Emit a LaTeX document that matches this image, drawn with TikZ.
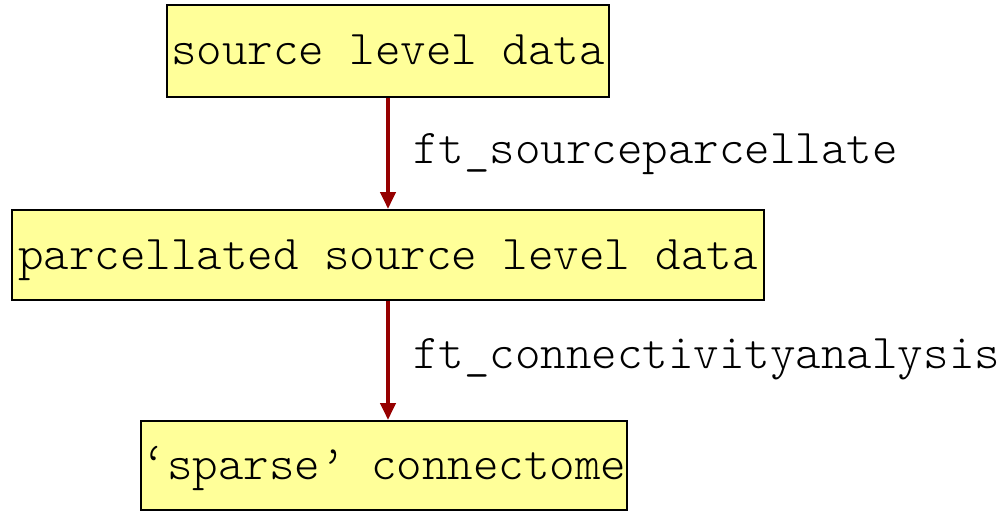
\documentclass[tikz,border=0pt]{standalone}
\usepackage{fontspec}
\newfontfamily\monolt{Latin Modern Mono Light}
\usetikzlibrary{arrows.meta}
\definecolor{boxfill}{RGB}{255,255,153}
\definecolor{arrred}{RGB}{150,0,0}
\tikzset{
  databox/.style={draw=black, line width=2pt, fill=boxfill, rectangle, inner sep=0pt,
    font=\monolt\fontsize{48.6}{56}\selectfont, text height=30pt, text depth=2pt},
  flowarrow/.style={draw=arrred, line width=4pt, -{Triangle[length=17pt,width=15pt]}},
  fnlabel/.style={font=\monolt\fontsize{48.6}{56}\selectfont, inner sep=0pt, anchor=base west}
}
\begin{document}
\begin{tikzpicture}[x=1pt,y=-1pt]
\useasboundingbox (0,0) rectangle (1003,513);
\node[databox, minimum width=442pt, minimum height=92pt] (src) at (388,51) {source level data};
\node[databox, minimum width=752pt, minimum height=90pt] (par) at (388,255) {parcellated source level data};
\node[databox, minimum width=486pt, minimum height=89pt] (con) at (384,465.5) {‘sparse’ connectome};
\draw[flowarrow] (src.south) -- (src.south |- par.north);
\draw[flowarrow] (par.south) -- (par.south |- con.north);
\node[fnlabel] (l1) at (413,164) {ft\_sourceparcellate};
\node[fnlabel] (l2) at (413,368) {ft\_connectivityanalysis};
\end{tikzpicture}
\end{document}
